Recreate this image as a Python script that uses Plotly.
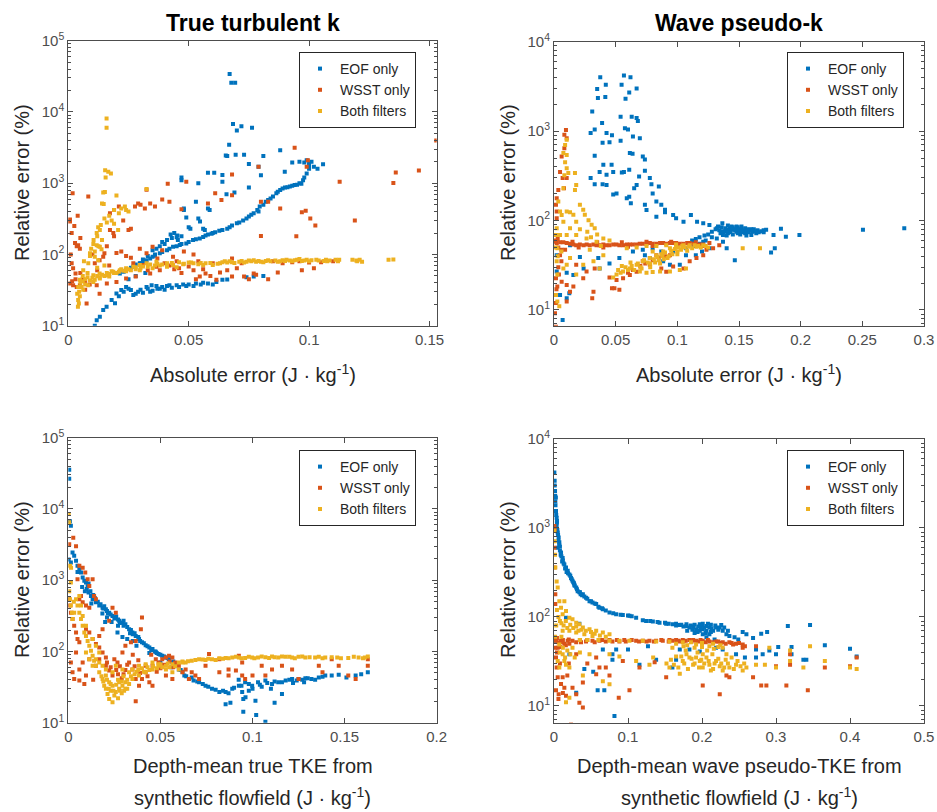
import plotly.graph_objects as go

# ---------------- data: (x, relative error %) ----------------
series_names = ["EOF only", "WSST only", "Both filters"]
series_colors = ["#0072BD", "#D95319", "#EDB120"]

panel_titles = ["True turbulent k", "Wave pseudo-k"]
ytick_vals = [10, 100, 1000, 10000, 100000]
ytick_text = ["10<sup>1</sup>", "10<sup>2</sup>", "10<sup>3</sup>", "10<sup>4</sup>", "10<sup>5</sup>"]

# Top-left: true turbulent k, x = absolute error
tl_eof = [(0.067,34000),(0.0677,25700),(0.0693,25700),(0.0684,6800),(0.070,5500),(0.0719,6300),(0.0763,6000),(0.0668,3460),(0.0654,2450),(0.0660,2400),(0.0695,2500),(0.073,2500),(0.081,2400),(0.088,2900),(0.075,1860),(0.079,1700),(0.080,1290),(0.0899,1450),(0.093,1950),(0.096,2000),(0.098,1950),(0.100,1800),(0.102,1700),(0.1035,1600),(0.1058,1850),(0.047,1200),(0.047,1100),(0.058,1400),(0.0606,1400),(0.054,1000),(0.064,1050),(0.064,1300),(0.0657,700),(0.069,740),(0.075,870),(0.048,440),(0.048,420),(0.053,550),(0.058,440),(0.0587,420),(0.054,320),(0.0547,290),(0.049,330),(0.050,240),(0.0507,230),(0.056,230),(0.0567,220),(0.044,200),(0.0425,190),(0.0453,185),(0.047,180),(0.041,160),(0.039,150),(0.038,130),(0.0366,120),(0.035,115),(0.033,95),(0.031,85),(0.030,75),
(0.060,200),(0.0627,215),(0.067,240),(0.070,275),(0.0726,300),(0.075,340),(0.077,380),(0.0785,420),(0.0795,470),(0.082,550),(0.084,610),(0.0864,720),(0.088,800),(0.090,870),(0.092,900),(0.093,920),(0.095,950),(0.0968,980),(0.0975,1100),(0.099,1370),(0.100,1600),
(0.011,10),(0.0118,11.9),(0.0131,13.4),(0.0145,16.6),(0.0159,18.5),(0.018,22.9),(0.0194,20.6),(0.020,28.4),(0.022,31.7),(0.024,35),(0.026,31.7),(0.028,28),(0.030,32),(0.0325,35),(0.0346,37),(0.0366,36),(0.039,35),(0.042,37),(0.045,37),(0.0477,38),(0.053,39),(0.056,40),(0.0615,41),(0.064,44),(0.066,44.5),(0.074,48),(0.077,49),(0.081,50),
(0.0214,54),(0.024,60),(0.027,67),(0.0297,75),(0.0325,83),(0.035,93),(0.038,104),(0.041,115),(0.0435,128),(0.0463,136),(0.049,143),(0.0518,159),(0.0546,168),(0.057,185),(0.0595,195),
(0.036,100),(0.040,140),(0.043,170),(0.045,175),(0.0455,160),(0.025,45),(0.028,50),(0.032,55),(0.034,30),(0.038,33)]
tl_eof_dense = [(0.021,26),(0.023,30),(0.025,33),(0.027,27),(0.029,30),(0.031,29),(0.033,33),(0.035,31),(0.037,33),(0.040,32),(0.041,36),(0.043,34),(0.046,35),(0.049,36),(0.050,38),(0.052,36),(0.055,38),(0.058,39),(0.060,38),
(0.023,57),(0.026,65),(0.028,72),(0.031,80),(0.034,88),(0.036,96),(0.039,108),(0.042,120),(0.045,130),(0.047,140),(0.050,150),(0.053,164),(0.056,176),(0.058,190),(0.061,205),(0.064,220),(0.066,230),(0.068,255),(0.071,280),(0.074,320),(0.076,360),(0.079,400),(0.081,500),(0.083,580),(0.085,650),(0.087,760),(0.089,840),(0.091,880),(0.094,940),(0.096,1000),(0.098,1200),(0.100,1900),(0.101,2000),(0.099,2100)]
tl_wsst = [(0.0007,290),(0.0007,310),(0.0018,720),(0.0039,350),(0.0083,650),(0.0014,200),(0.0028,145),(0.0041,135),(0.0048,120),(0.0014,75),(0.002,64),(0.003,54),(0.0007,39),(0.002,37),(0.0035,35),(0.0048,37),(0.006,45),(0.007,42),(0.0089,38),(0.007,32),(0.0076,20.5),(0.013,28),(0.011,75),(0.013,83),(0.0145,93),(0.015,104),(0.016,130),(0.0173,220),(0.0187,200),(0.019,180),(0.0173,380),(0.019,420),(0.021,470),(0.0228,300),(0.025,220),(0.026,230),(0.0277,470),(0.029,520),(0.030,500),(0.0318,440),(0.034,520),(0.036,470),(0.039,590),(0.042,550),(0.0325,810),(0.0413,980),(0.049,1050),(0.047,430),(0.058,520),(0.061,720),(0.0636,580),(0.068,680),(0.068,1330),(0.079,1700),(0.080,550),(0.083,550),(0.088,440),(0.094,3150),(0.0995,2100),(0.099,1700),(0.097,390),(0.0986,410),(0.1005,320),(0.1026,255),(0.1127,1050),(0.119,300),(0.135,1010),(0.136,1410),(0.1456,1510),(0.1528,3970),(0.0947,180),(0.080,182),(0.0297,120),(0.0325,104),(0.035,128),(0.039,115),(0.0435,93),(0.048,110),(0.052,100),(0.054,80),(0.027,75),(0.031,71),(0.0366,67),(0.042,70),(0.046,64),(0.052,60),(0.0546,49),(0.057,54),(0.0615,44),(0.066,60),(0.068,49),(0.073,49),(0.077,54),(0.068,88),(0.089,75),(0.093,78),(0.102,64),(0.0118,37),(0.016,39),(0.02,41),(0.024,46),(0.028,49),(0.034,54),(0.038,60),(0.024,95),(0.02,105),(0.017,70),(0.045,80),(0.06,75),(0.072,75),(0.085,80),(0.105,78),(0.11,80)]
tl_wsst_dense = [(0.022,110),(0.026,90),(0.033,60),(0.037,88),(0.040,75),(0.044,62),(0.047,55),(0.050,68),(0.053,45),(0.056,62),(0.059,50),(0.063,56),(0.070,64),(0.075,45),(0.078,52),(0.083,45),(0.087,56),(0.096,80),(0.100,77),(0.097,60),(0.010,100),(0.012,60),(0.005,55),(0.003,45),(0.0016,42),(0.001,100),(0.0025,250),(0.0035,130),(0.005,170)]
tl_both = [(0.0159,8100),(0.0159,6000),(0.0153,1520),(0.0166,1450),(0.0177,1370),(0.0155,1200),(0.0145,740),(0.0152,750),(0.014,520),(0.0147,510),(0.02,670),(0.0325,830),(0.019,420),(0.021,380),(0.022,440),(0.0235,470),(0.024,420),(0.025,400),(0.018,300),(0.019,270),(0.0207,220),(0.0131,220),(0.0118,200),(0.0124,240),(0.0104,140),(0.0118,135),(0.0131,128),(0.0138,118),(0.009,104),(0.011,93),(0.0124,83),(0.0083,75),(0.0062,60),(0.0048,44),(0.0041,35),(0.0037,28),(0.0041,23),(0.0044,20.5),(0.004,18.5),(0.0048,26),(0.0062,32),(0.0083,37),(0.0104,41),(0.0131,46),(0.016,51),(0.0187,57),(0.0214,60),(0.024,64),(0.027,67),(0.0297,71),(0.0325,75),(0.0366,79),(0.041,75),(0.0435,71),(0.0477,73),(0.052,75),(0.056,71),(0.060,71),(0.063,75),(0.066,77),(0.068,78),(0.071,79),(0.074,79),(0.078,79),(0.082,81),(0.086,82),(0.0906,84),(0.095,84),(0.099,84),(0.104,82),(0.1085,82),(0.111,84),(0.1196,82),(0.122,79),(0.133,84),(0.135,85),(0.0055,35),(0.0104,51),(0.013,54),(0.017,49),(0.024,58),(0.0297,60),(0.035,64),(0.041,67),(0.045,66),(0.0065,80),(0.009,95),(0.011,110),(0.0125,130),(0.014,160),(0.008,55),(0.006,50),(0.0045,30),(0.005,40),(0.007,45),(0.012,65),(0.015,70),(0.02,55),(0.028,62),(0.038,70),(0.050,77),(0.055,76),(0.065,80),(0.075,82),(0.080,79),(0.088,80),(0.092,82),(0.097,81),(0.101,83),(0.106,81)]
tl_both_dense = [(0.043,76),(0.046,78),(0.048,74),(0.051,77),(0.054,73),(0.057,75),(0.059,76),(0.062,74),(0.064,78),(0.067,80),(0.069,76),(0.072,81),(0.073,77),(0.076,80),(0.077,83),(0.079,81),(0.081,78),(0.083,83),(0.084,80),(0.087,79),(0.089,83),(0.090,81),(0.093,80),(0.094,83),(0.096,86),(0.098,82),(0.100,80),(0.103,84),(0.107,84),(0.1075,80),(0.112,80),(0.1125,84),(0.118,84),(0.120,80),(0.121,84),
(0.006,42),(0.007,38),(0.008,48),(0.009,43),(0.010,47),(0.011,44),(0.012,50),(0.013,48),(0.014,52),(0.015,50),(0.016,55),(0.017,53),(0.018,58),(0.019,55),(0.021,57),(0.022,62),(0.023,59),(0.025,62),(0.026,60),(0.028,66),(0.030,64),(0.031,68),(0.033,67),(0.034,72),(0.036,70),(0.037,74),(0.039,72),
(0.0095,120),(0.0105,160),(0.012,180),(0.0135,260),(0.015,320),(0.016,280),(0.017,350)]

# Top-right: wave pseudo-k, x = absolute error
tr_eof = [(0.0375,4000),(0.035,2950),(0.0356,2350),(0.042,3300),(0.0416,2400),(0.031,1660),(0.039,1230),(0.033,1040),(0.0297,950),(0.0426,950),(0.047,900),(0.0394,740),(0.045,750),(0.033,530),(0.0297,300),(0.033,255),(0.037,350),(0.04,420),(0.0467,420),(0.048,350),(0.0426,325),(0.0394,255),(0.0426,250),(0.048,195),(0.0507,200),
(0.0567,4200),(0.062,4000),(0.0548,3300),(0.061,2700),(0.067,3000),(0.058,2300),(0.054,1450),(0.063,1450),(0.0575,1080),(0.06,1040),(0.067,1400),(0.068,1300),(0.0696,830),(0.064,870),(0.054,780),(0.0615,570),(0.0637,560),(0.072,520),(0.0737,480),(0.0567,350),(0.055,345),(0.061,370),(0.069,310),(0.0737,360),(0.0777,300),(0.079,255),(0.067,250),(0.065,230),(0.061,185),(0.059,177),(0.0623,156),(0.08,200),(0.085,240),(0.083,163),(0.087,150),(0.09,132),(0.0737,150),(0.075,131),(0.083,110),(0.09,124),(0.0966,115),(0.099,106),(0.105,97),(0.111,115),(0.116,97),(0.121,93),(0.126,89),(0.132,82),(0.1365,93),(0.14,79),(0.1425,82),(0.145,79),(0.148,75),(0.1506,76),(0.153,74),(0.157,76),(0.161,75),(0.165,78),(0.17,78),(0.178,69),(0.184,81),(0.188,66),(0.199,69),(0.2505,79),(0.284,82),(0.179,49),(0.176,44),(0.1466,36),(0.14,49),(0.137,58),(0.126,49),(0.121,58),(0.132,63),(0.137,69),(0.133,86),(0.1385,75),(0.141,72),(0.144,86),(0.146,80),(0.149,84),(0.152,80),(0.155,72),(0.159,79),(0.162,80),(0.164,72),(0.16,69),(0.156,68),(0.151,70),(0.145,70),
(0.013,53),(0.0103,26),(0.0049,14.7),(0.007,7.7),(0.024,29),(0.0157,24.6),(0.021,39),(0.0359,38),(0.037,29),(0.045,33),(0.053,38),(0.064,45),(0.072,47),(0.0777,38),(0.0885,35),(0.094,32),(0.102,32),(0.107,41),(0.115,41),(0.12,45),(0.0022,41),(0.0022,27),(0.0103,13.5),(0.0124,15.4),(0.0737,41),(0.08,49),(0.087,45),(0.0966,45),(0.107,49),(0.113,52),(0.118,55),(0.123,60),(0.128,65)]
tr_eof_dense = [(0.131,80),(0.134,78),(0.136,84),(0.137,76),(0.139,82),(0.141,88),(0.142,78),(0.143,74),(0.145,84),(0.147,78),(0.148,86),(0.149,72),(0.150,80),(0.151,76),(0.152,86),(0.154,78),(0.155,82),(0.156,76),(0.157,80),(0.158,74),(0.160,80),(0.161,78),(0.163,76),(0.166,74),(0.168,76),(0.170,74),(0.172,79),(0.140,68),(0.135,72),(0.128,75),(0.125,70),(0.122,68),(0.118,65),(0.115,62),(0.112,60)]
tr_wsst = [(0.0097,1030),(0.0084,910),(0.0103,830),(0.0084,645),(0.0062,520),(0.0049,350),(0.007,300),(0.0103,300),(0.0035,220),(0.0081,230),(0.0022,178),(0.0016,150),(0.0022,126),(0.0022,106),
(0.0008,58),(0.0022,56),(0.005,57),(0.0076,57),(0.0103,56),(0.013,55),(0.0157,54),(0.018,53),(0.021,54),(0.024,53),(0.0265,54),(0.029,53),(0.032,54),(0.0345,53),(0.037,53),(0.04,54),(0.0425,53),(0.045,53),(0.048,54),(0.0507,54),(0.053,53),(0.056,53),(0.059,54),(0.0615,54),(0.064,54),(0.067,54),(0.0695,55),(0.072,55),(0.075,55),(0.0777,56),(0.080,55),(0.083,55),(0.086,56),(0.0885,56),(0.091,55),(0.094,56),(0.0965,56),(0.099,56),(0.102,55),(0.105,55),(0.108,56),(0.11,56),(0.113,55),(0.1155,53),(0.118,54),(0.121,54),(0.126,56),
(0.0035,50),(0.006,47),(0.009,47),(0.0049,41),(0.0016,60),(0.003,62),
(0.0016,22.6),(0.0027,18.3),(0.0008,14.7),(0.0016,12),(0.0008,9.2),(0.0016,6.5),(0.0062,20.7),(0.0103,19),(0.013,16),(0.0103,12.4),(0.0157,18.3),(0.032,16),(0.031,13.5),(0.0264,27),(0.033,29),(0.045,23),(0.047,17.5),(0.049,17.5),(0.053,16.8),(0.0507,21.7),(0.056,22.7),(0.0615,24.6),(0.067,26.8),(0.0777,32),(0.087,29),(0.091,26.8),(0.0966,30.6),(0.105,29),(0.11,35),(0.1155,38),(0.121,41),(0.1236,47),(0.129,49),(0.134,53),(0.094,41),(0.083,41),(0.072,35),(0.0237,22.6),(0.018,32),(0.0035,30),(0.004,25),(0.006,35),(0.002,17)]
tr_wsst_dense = [(0.020,50),(0.040,50),(0.060,51),(0.080,52),(0.100,52),(0.120,52),(0.015,58),(0.035,57),(0.055,57),(0.075,58),(0.095,58),(0.115,57),(0.060,26),(0.064,28),(0.070,31),(0.074,33),(0.080,36),(0.085,38),(0.090,40)]
tr_both = [(0.0103,800),(0.009,700),(0.0076,570),(0.0103,540),(0.009,450),(0.0103,385),(0.0116,340),(0.017,340),(0.0084,320),(0.0076,230),(0.017,220),(0.018,250),(0.0035,163),(0.0049,126),(0.0062,115),(0.0103,126),(0.013,124),(0.0157,116),(0.021,150),(0.0237,132),(0.025,116),(0.028,101),(0.0305,90),(0.033,82),(0.018,97),(0.013,82),(0.0076,97),(0.0022,82),(0.0049,69),(0.0103,69),(0.018,69),(0.0264,63),(0.0345,58),(0.04,63),(0.021,80),(0.027,75),(0.035,70),(0.03,65),(0.045,60),(0.038,52),
(0.029,47),(0.04,41),(0.048,23),(0.0507,25),(0.056,27),(0.0615,29),(0.067,32),(0.072,35),(0.0777,38),(0.083,41),(0.0885,45),(0.094,49),(0.099,51),(0.105,53),(0.11,53),(0.1155,51),(0.121,53),(0.0696,27),(0.075,26),(0.08,26.5),(0.086,27),(0.094,27),(0.102,28),(0.107,29),(0.059,49),(0.067,50),(0.075,52),(0.083,52),(0.091,53),(0.099,54),(0.055,31),(0.062,34),(0.07,30),(0.078,33),(0.085,36),(0.092,38),(0.1,42),(0.108,46),(0.08,45),(0.088,40),
(0.0016,69),(0.0027,49),(0.0022,35),(0.0027,25),(0.0016,14.7),(0.0027,12.4),(0.0043,11),(0.0076,29),(0.0103,32),(0.013,38),(0.018,25),(0.0237,32),(0.032,35),(0.037,29),(0.167,49),(0.153,49),(0.003,40),(0.006,45),(0.0015,50)]
tr_both_dense = [(0.052,28),(0.054,26),(0.058,30),(0.060,28),(0.063,31),(0.065,28),(0.068,33),(0.071,29),(0.073,36),(0.076,34),(0.078,30),(0.081,37),(0.082,34),(0.084,39),(0.086,33),(0.087,42),(0.089,37),(0.090,44),(0.093,40),(0.095,46),(0.096,42),(0.098,48),(0.100,45),(0.101,50),(0.103,47),(0.104,52),(0.106,50),(0.109,51),(0.112,49),(0.114,53),(0.117,52),(0.119,50),(0.123,52),(0.125,50)]

# Bottom-left: true turbulent k, x = depth-mean true TKE
bl_eof = [(0.0005,35500),(0.0005,26500),(0.0009,6700),(0.0014,5800),(0.0002,1960),(0.0014,1770),(0.0023,2450),(0.0032,2200),(0.0042,1870),(0.005,1590),(0.006,1430),(0.0069,1280),(0.0078,1090),(0.0087,980),(0.0096,930),(0.01,750),(0.011,670),(0.0123,600),(0.0132,540),(0.015,490),(0.0168,440),(0.0186,410),(0.0204,390),(0.0222,350),(0.024,315),(0.0258,300),(0.0276,270),(0.0294,255),(0.031,240),(0.033,205),(0.0348,185),(0.0366,165),(0.0384,150),(0.040,135),(0.042,122),(0.044,114),(0.0457,108),(0.0475,99),(0.049,92),(0.051,87),(0.053,82),(0.0547,78),(0.0565,70),(0.058,63),(0.060,56),(0.063,46),(0.0655,41),(0.068,39),(0.071,37),(0.0745,33),(0.078,30),(0.082,27),(0.0854,27),(0.089,30),(0.0926,33),(0.0944,27),(0.095,21.5),(0.096,37),(0.0998,33),(0.103,37),(0.107,39),(0.1106,35),(0.114,37),(0.118,39),(0.1215,41),(0.125,41),(0.1287,42),(0.132,41),(0.136,43),(0.1395,46),(0.143,46),(0.1468,47),(0.151,43),(0.156,46),(0.159,48),(0.1626,51),(0.0854,18.2),(0.088,19),(0.095,14.3),(0.102,12.8),(0.107,10.3),(0.1016,20.4),(0.112,19),(0.116,25.3),(0.0962,22.7),(0.0267,185),(0.0294,160),(0.032,150),(0.035,140),(0.0185,340),(0.021,300),(0.0235,260),(0.0075,800),(0.009,700),(0.011,900),(0.005,1300),(0.0125,470),(0.02,260),(0.037,120),(0.044,95),(0.05,70),(0.056,60),(0.062,52),(0.0335,180),(0.027,230),(0.0925,40),(0.098,28),(0.105,32),(0.122,36),(0.128,37),(0.11,30)]
bl_eof_dense = [(0.0105,820),(0.012,700),(0.0135,620),(0.0145,560),(0.016,500),(0.0175,460),(0.019,400),(0.0195,430),(0.021,370),(0.0215,340),(0.023,330),(0.025,290),(0.026,310),(0.027,280),(0.028,250),(0.030,230),(0.030,270),(0.032,220),(0.034,200),(0.035,175),(0.036,180),(0.038,160),(0.039,140),(0.041,130),(0.043,118),(0.045,105),(0.047,100),(0.048,95),(0.050,90),(0.052,85),(0.054,80),(0.057,72),(0.059,66),(0.061,55),(0.064,45),(0.067,43),(0.070,38),(0.073,35),(0.076,32),(0.080,29),(0.084,28),(0.087,26),(0.090,31),(0.094,33),(0.098,35),(0.100,30),(0.104,34),(0.108,36),(0.112,38),(0.116,37),(0.120,40),(0.124,39),(0.127,40),(0.130,42),(0.134,40),(0.138,44)]
bl_wsst = [(0.0005,3200),(0.0027,3950),(0.0042,3000),(0.005,1030),(0.006,1590),(0.0078,1500),(0.0092,1280),(0.0105,1030),(0.0132,1030),(0.0114,830),(0.014,600),(0.015,540),(0.0069,600),(0.006,540),(0.0078,490),(0.0096,440),(0.0114,410),(0.0005,540),(0.0009,440),(0.0014,350),(0.0023,285),(0.0032,230),(0.0042,185),(0.005,150),(0.006,135),(0.0096,205),(0.0114,185),(0.0132,150),(0.015,127),(0.0168,114),(0.0186,97),(0.0204,82),(0.0042,97),(0.0014,70),(0.0023,51),(0.0032,41),(0.006,39),(0.0087,35),(0.0096,46),(0.006,56),(0.0078,70),(0.0114,78),(0.015,63),(0.0168,78),(0.0204,63),(0.0222,54),(0.024,46),(0.025,78),(0.0267,70),(0.0294,97),(0.031,120),(0.034,135),(0.0366,140),(0.0394,205),(0.040,300),(0.024,410),(0.0258,350),(0.0222,270),(0.0186,205),(0.0168,165),(0.033,70),(0.0348,56),(0.0366,41),(0.0384,33),(0.0366,20),(0.040,41),(0.042,51),(0.0457,63),(0.0475,78),(0.049,70),(0.051,78),(0.053,82),(0.0547,87),(0.0565,82),(0.058,70),(0.060,63),(0.0637,56),(0.067,51),(0.069,46),(0.071,41),(0.0764,92),(0.082,78),(0.082,51),(0.087,46),(0.091,54),(0.0944,70),(0.0944,46),(0.096,41),(0.1,46),(0.105,63),(0.107,46),(0.1106,56),(0.116,63),(0.1215,56),(0.125,41),(0.136,63),(0.138,51),(0.143,78),(0.1468,63),(0.152,46),(0.156,41),(0.1626,63),(0.1626,78),(0.0926,87),(0.087,56),(0.0745,63),(0.042,63),(0.044,37),(0.0457,33),(0.053,46),(0.0565,41),(0.062,51),(0.0655,41),(0.03,48),(0.035,90),(0.045,90),(0.028,62),(0.0135,40)]
bl_wsst_dense = [(0.021,70),(0.023,60),(0.026,55),(0.027,48),(0.029,42),(0.031,55),(0.032,65),(0.036,62),(0.038,75),(0.039,50),(0.043,45),(0.048,52),(0.050,58),(0.052,65),(0.055,72),(0.057,60)]
bl_both = [(0.0002,8500),(0.0005,6500),(0.0009,1590),(0.0014,930),(0.0005,700),(0.0009,540),(0.0014,440),(0.002,350),(0.0023,285),(0.0032,350),(0.0042,540),(0.005,440),(0.006,350),(0.0069,285),(0.0078,230),(0.0087,185),(0.0096,165),(0.0105,140),(0.0114,120),(0.0123,102),(0.0132,87),(0.014,74),(0.015,63),(0.0168,51),(0.0186,41),(0.0195,33),(0.0204,30),(0.0213,25.3),(0.0222,21.5),(0.024,19.3),(0.025,24),(0.0258,27),(0.0276,30),(0.0294,33),(0.031,37),(0.0303,28),(0.0276,37),(0.024,33),(0.0222,37),(0.0204,46),(0.024,51),(0.0258,63),(0.0294,56),(0.033,51),(0.0348,56),(0.0384,63),(0.042,66),(0.0457,70),(0.049,66),(0.053,63),(0.0565,66),(0.060,70),(0.0637,70),(0.067,74),(0.071,78),(0.0745,76),(0.078,78),(0.082,80),(0.0854,81),(0.089,82),(0.0926,82),(0.096,81),(0.0998,82),(0.103,82),(0.107,83),(0.1106,85),(0.114,82),(0.118,84),(0.1215,82),(0.125,84),(0.1287,82),(0.134,82),(0.1395,82),(0.146,82),(0.152,81),(0.1576,82),(0.161,82),(0.1626,85),(0.0096,97),(0.0114,78),(0.0132,63),(0.015,78),(0.0168,70),(0.0186,63),(0.0204,56),(0.0168,97),(0.015,120),(0.0132,150),(0.0096,230),(0.0078,315),(0.0069,440),(0.006,600),(0.0348,41),(0.0384,46),(0.042,51),(0.0457,56),(0.049,63),(0.053,56),(0.0565,51),(0.06,56),(0.062,70),(0.0015,1500),(0.003,500),(0.027,22),(0.029,26),(0.032,30),(0.023,28)]
bl_both_dense = [(0.062,72),(0.065,73),(0.069,76),(0.073,77),(0.076,79),(0.080,76),(0.084,79),(0.087,80),(0.091,84),(0.094,80),(0.098,84),(0.101,80),(0.105,85),(0.109,81),(0.112,83),(0.116,85),(0.120,84),(0.123,80),(0.127,85),(0.131,83),(0.136,84),(0.138,80),(0.143,83),(0.148,80),(0.155,84),(0.160,80),
(0.018,45),(0.019,38),(0.021,40),(0.022,30),(0.023,35),(0.0245,28),(0.026,34),(0.027,40),(0.028,28),(0.029,38),(0.030,45),(0.031,30),(0.032,40),(0.033,35),(0.034,45),(0.036,48),(0.037,52),(0.038,55),(0.040,58),(0.041,52),(0.043,60),(0.044,55),(0.046,62),(0.048,58),(0.050,66),(0.051,60),(0.054,68),(0.055,60),(0.058,62)]

# Bottom-right: wave pseudo-k, x = depth-mean wave pseudo-TKE
br_eof = [(0.0005,4200),(0.0009,3400),(0.0014,2600),(0.0018,2000),(0.0027,1550),(0.0036,1300),(0.0036,1050),(0.005,890),(0.0063,780),(0.0072,690),(0.005,600),(0.0095,530),(0.0117,460),(0.014,390),(0.0162,360),(0.0185,330),(0.0208,300),(0.023,275),(0.025,255),(0.0275,230),(0.03,215),(0.032,195),(0.0343,190),(0.039,180),(0.0433,165),(0.048,150),(0.052,145),(0.057,140),(0.0614,127),(0.066,122),(0.075,112),(0.084,107),(0.093,105),(0.102,103),(0.111,98),(0.1245,90),(0.1336,89),(0.1426,86),(0.1516,84),(0.1606,83),(0.17,81),(0.179,79),(0.188,77),(0.192,73),(0.197,70),(0.201,73),(0.206,70),(0.21,76),(0.215,70),(0.219,76),(0.201,64),(0.206,59),(0.21,64),(0.217,56),(0.226,81),(0.228,70),(0.233,64),(0.237,61),(0.244,59),(0.249,56),(0.255,68),(0.26,64),(0.269,58),(0.28,65),(0.288,68),(0.316,79),(0.346,81),(0.273,43),(0.291,42),(0.303,46),(0.321,46),(0.366,48),(0.4,44),(0.409,36),(0.337,33),(0.341,33),(0.321,38),(0.3,38),(0.282,38),(0.273,35),(0.258,35),(0.246,38),(0.228,43),(0.219,45),(0.0162,98),(0.0343,84),(0.0027,54),(0.0208,38),(0.041,26),(0.03,14.1),(0.053,24.3),(0.059,15),(0.068,15),(0.066,43),(0.079,33),(0.079,38),(0.084,43),(0.1,43),(0.0817,7.7),(0.1155,29),(0.127,47),(0.138,33),(0.16,27),(0.165,33),(0.17,43),(0.183,43),(0.197,41),(0.179,83),(0.183,76),(0.187,72),(0.197,83),(0.201,84),(0.206,79),(0.212,82),(0.222,72),(0.18,70),(0.19,66),(0.165,80),(0.175,78),(0.0025,2200),(0.004,1150),(0.008,620),(0.012,430),(0.022,290),(0.027,240),(0.036,180)]
br_eof_dense = [(0.001,3000),(0.0016,2300),(0.002,1800),(0.003,1400),(0.004,1200),(0.0045,950),(0.0055,840),(0.006,720),(0.007,650),(0.008,560),(0.009,500),(0.010,480),(0.011,420),(0.013,400),(0.015,350),(0.017,320),(0.019,310),(0.024,265),(0.026,245),(0.028,225),(0.031,205),(0.035,190),(0.038,175),(0.041,170),(0.045,160),(0.050,150),(0.055,142),(0.060,130),(0.065,125),(0.070,118),(0.080,110),(0.090,106),(0.100,104),(0.105,102),(0.120,92),(0.130,90),(0.140,88),(0.150,86),(0.155,84),(0.165,84),(0.172,82),(0.185,80),(0.190,82),(0.195,78),(0.200,80),(0.203,76),(0.208,84),(0.213,74),(0.218,80),(0.224,76),(0.198,76),(0.205,66),(0.212,68),(0.194,68),(0.230,76),(0.235,70)]
br_wsst = [(0.0005,1050),(0.0009,970),(0.0005,600),(0.0009,360),(0.0018,180),(0.0018,140),
(0.0009,56),(0.0027,54),(0.005,45),(0.006,52),(0.0095,54),(0.014,50),(0.0185,54),(0.0208,50),(0.025,54),(0.03,52),(0.0365,52),(0.0433,53),(0.052,54),(0.0614,54),(0.07,53),(0.079,53),(0.0884,53),(0.097,53),(0.111,54),(0.12,54),(0.129,54),(0.138,54),(0.147,54),(0.156,55),(0.165,55),(0.174,55),(0.183,55),(0.192,54),(0.201,54),(0.21,53),(0.219,53),(0.228,52),(0.237,52),(0.246,50),(0.255,49),(0.17,53),(0.178,54),(0.186,53),(0.195,53),(0.205,52),(0.215,52),(0.225,51),(0.24,51),(0.002,45),(0.004,58),(0.008,46),(0.012,55),(0.016,48),
(0.0027,35),(0.0036,27),(0.005,21),(0.0027,15),(0.0063,13.5),(0.0095,17.6),(0.014,16),(0.0162,13),(0.0117,21),(0.03,13.5),(0.0343,10.9),(0.039,9.6),(0.023,6.2),(0.039,18.3),(0.057,22.7),(0.0614,27),(0.07,27),(0.075,22),(0.0875,12.4),(0.102,15),(0.093,32),(0.1155,27),(0.136,31),(0.1516,21),(0.201,17),(0.224,13.5),(0.233,22),(0.237,21),(0.269,21),(0.28,17),(0.287,17),(0.314,17),(0.343,15),(0.366,27),(0.409,35),(0.4,28),(0.319,38),(0.3,28),(0.273,47),(0.255,45),(0.319,29),(0.03,38),(0.057,35),(0.02,30),(0.045,30)]
br_wsst_dense = [(0.010,52),(0.020,56),(0.035,55),(0.045,55),(0.055,52),(0.065,55),(0.075,55),(0.085,55),(0.095,55),(0.105,55),(0.115,53),(0.125,53),(0.135,53),(0.145,55),(0.155,53),(0.160,54),(0.168,54),(0.175,53),(0.188,55),(0.198,55),(0.208,55),(0.222,53),(0.232,50),(0.242,49),(0.250,51),(0.258,47),(0.006,12),(0.012,14),(0.018,22),(0.025,16),(0.004,40),(0.008,30)]
br_both = [(0.0005,930),(0.0009,710),(0.0014,500),(0.0018,360),(0.0036,250),(0.005,215),(0.0072,150),(0.0095,127),(0.0117,107),(0.014,150),(0.0162,117),(0.0208,98),(0.025,94),(0.03,86),(0.0343,83),(0.039,76),(0.048,73),(0.057,70),(0.066,67),(0.075,64),(0.0208,70),(0.0117,70),(0.03,67),(0.041,64),(0.052,61),
(0.075,54),(0.0884,54),(0.102,54),(0.12,54),(0.138,53),(0.156,53),(0.174,52),(0.192,49),(0.21,47),(0.228,45),(0.165,50),(0.18,48),(0.2,46),(0.185,52),(0.2,51),(0.215,50),(0.225,48),
(0.0072,49),(0.0117,38),(0.0162,29),(0.0208,27),(0.014,32),(0.0072,27),(0.005,32),(0.0162,11),(0.0208,12.4),(0.039,22),(0.066,19),(0.075,17.5),(0.048,38),(0.075,38),(0.0884,36),(0.111,32),(0.129,29),(0.156,27),(0.174,32),(0.183,35),(0.188,29),(0.197,32),(0.201,27),(0.206,35),(0.21,29),(0.215,26),(0.219,32),(0.224,28),(0.228,25),(0.237,27),(0.246,29),(0.255,25),(0.233,38),(0.201,38),(0.192,35),(0.179,38),(0.165,36),(0.134,35),(0.17,23),(0.273,29),(0.285,29),(0.3,27),(0.319,32),(0.337,27),(0.346,47),(0.366,32),(0.4,27),(0.409,26),(0.291,45),(0.319,42),(0.0015,60),(0.003,80),(0.01,60),(0.025,45),(0.035,55),(0.045,55),(0.06,55)]
br_both_dense = [(0.152,30),(0.158,33),(0.162,29),(0.168,27),(0.172,36),(0.176,30),(0.178,42),(0.181,26),(0.186,34),(0.190,30),(0.194,40),(0.196,27),(0.199,33),(0.203,30),(0.207,42),(0.209,32),(0.212,25),(0.214,38),(0.217,30),(0.222,34),(0.226,30),(0.230,27),(0.232,33),(0.235,30),(0.240,35),(0.243,26),(0.248,32),(0.252,28),(0.257,30),(0.260,27),(0.216,44),(0.222,46),(0.190,45),(0.175,47),(0.160,45),
(0.004,120),(0.006,100),(0.008,90),(0.010,85),(0.013,80),(0.016,90),(0.018,75),(0.022,82),(0.026,75),(0.030,78),(0.033,70),(0.037,72),(0.043,70),(0.050,68),(0.055,65),(0.062,62),(0.070,60),(0.008,40),(0.012,45),(0.015,35),(0.018,42),(0.022,38),(0.028,35),(0.035,40)]

panels = [
    [tl_eof + tl_eof_dense, tl_wsst + tl_wsst_dense, tl_both + tl_both_dense],
    [tr_eof + tr_eof_dense, tr_wsst + tr_wsst_dense, tr_both + tr_both_dense],
    [bl_eof + bl_eof_dense, bl_wsst + bl_wsst_dense, bl_both + bl_both_dense],
    [br_eof + br_eof_dense, br_wsst + br_wsst_dense, br_both + br_both_dense],
]

# ---------------- layout geometry (pixels) ----------------
W, H = 937, 812
def px_x(p): return p / W
def px_y(p): return 1 - p / H

axes_px = [  # left, right, top, bottom
    (68.3, 436.7, 40.7, 325.7),
    (554.0, 924.0, 41.7, 325.7),
    (68.3, 436.7, 437.7, 722.7),
    (554.0, 924.0, 439.0, 722.7),
]
x_ranges = [[0, 0.153], [0, 0.3], [0, 0.2], [0, 0.5]]
x_dticks = [0.05, 0.05, 0.05, 0.1]
y_ranges = [[1, 5], [0.824, 4], [1, 5], [0.812, 4]]

fig = go.Figure()
font_family = "Liberation Sans, Arial, Helvetica, sans-serif"
tick_col = "#4d4d4d"
legend_keys = ["legend", "legend2", "legend3", "legend4"]

for i, pdata in enumerate(panels):
    sfx = "" if i == 0 else str(i + 1)
    for s, pts in enumerate(pdata):
        fig.add_trace(go.Scatter(
            x=[p[0] for p in pts], y=[p[1] for p in pts],
            mode="markers", name=series_names[s],
            marker=dict(symbol="square", size=4, color=series_colors[s], line=dict(width=0)),
            xaxis="x" + sfx, yaxis="y" + sfx, legend=legend_keys[i],
            showlegend=True,
        ))
    l, r, t, b = axes_px[i]
    common = dict(showline=True, linecolor=tick_col, linewidth=1, mirror="ticks",
                  ticks="inside", ticklen=5, tickcolor=tick_col, showgrid=False, zeroline=False,
                  automargin=False,
                  tickfont=dict(family=font_family, size=15, color=tick_col))
    fig.update_layout(**{
        "xaxis" + sfx: dict(domain=[px_x(l), px_x(r)], range=x_ranges[i], dtick=x_dticks[i],
                            tick0=0, anchor="y" + sfx, **common),
        "yaxis" + sfx: dict(domain=[px_y(b), px_y(t)], type="log", range=y_ranges[i],
                            tickmode="array", tickvals=ytick_vals, ticktext=ytick_text,
                            anchor="x" + sfx,
                            minor=dict(ticks="inside", ticklen=3, tickcolor=tick_col, dtick="D1"),
                            **common),
    })

# legends
leg_pos = [(299, 52), (787, 52), (299, 450), (787, 450)]
for i, key in enumerate(legend_keys):
    lx, ly = leg_pos[i]
    fig.update_layout(**{key: dict(x=px_x(lx), y=px_y(ly), xanchor="left", yanchor="top",
                                   bgcolor="white", bordercolor="#262626", borderwidth=1,
                                   font=dict(family=font_family, size=14, color="#262626"),
                                   itemsizing="trace")})

ann = []
# titles
for cx, txt in [(252.5, panel_titles[0]), (739, panel_titles[1])]:
    ann.append(dict(x=px_x(cx), y=px_y(23), xref="paper", yref="paper", text="<b>%s</b>" % txt,
                    showarrow=False, xanchor="center", yanchor="middle",
                    font=dict(family=font_family, size=23, color="black")))
# x titles
for cx in (252.5, 739):
    ann.append(dict(x=px_x(cx), y=px_y(373), xref="paper", yref="paper",
                    text="Absolute error (J · kg<sup>-1</sup>)", showarrow=False,
                    xanchor="center", yanchor="middle",
                    font=dict(family=font_family, size=20, color="#262626")))
for cx, l1 in [(252.5, "Depth-mean true TKE from"), (739, "Depth-mean wave pseudo-TKE from")]:
    ann.append(dict(x=px_x(cx), y=px_y(766), xref="paper", yref="paper", text=l1,
                    showarrow=False, xanchor="center", yanchor="middle",
                    font=dict(family=font_family, size=20, color="#262626")))
    ann.append(dict(x=px_x(cx), y=px_y(796), xref="paper", yref="paper",
                    text="synthetic flowfield (J · kg<sup>-1</sup>)",
                    showarrow=False, xanchor="center", yanchor="middle",
                    font=dict(family=font_family, size=20, color="#262626")))
# y titles
for cx, cy in [(22, 183), (508, 183), (22, 580), (508, 580)]:
    ann.append(dict(x=px_x(cx), y=px_y(cy), xref="paper", yref="paper", text="Relative error (%)",
                    showarrow=False, textangle=-90, xanchor="center", yanchor="middle",
                    font=dict(family=font_family, size=20, color="#262626")))

fig.update_layout(width=W, height=H, margin=dict(l=0, r=0, t=0, b=0, autoexpand=False),
                  paper_bgcolor="white", plot_bgcolor="white", annotations=ann,
                  font=dict(family=font_family), hovermode=False)
fig.write_html("out.html", config={"displayModeBar": False, "staticPlot": True},
               post_script="document.body.style.margin='0';")
